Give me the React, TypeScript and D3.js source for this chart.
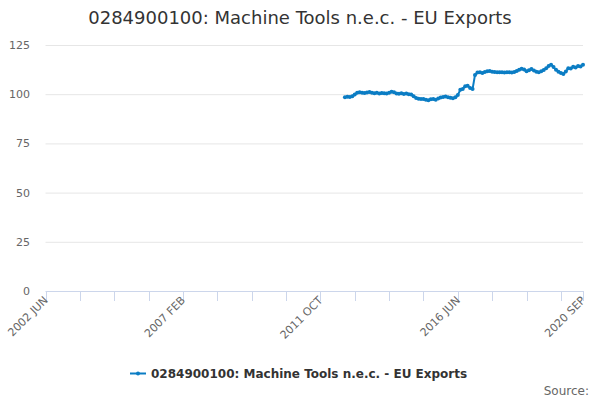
import { useEffect, useRef } from 'react'
import * as d3 from 'd3'

const title = '0284900100: Machine Tools n.e.c. - EU Exports'
const seriesName = '0284900100: Machine Tools n.e.c. - EU Exports'

// months are counted from 2002 JUN (index 0) to 2020 SEP (index 219)
const monthCount = 220
const dataStart = 122 // 2012 AUG

const tickLabels = ['2002 JUN', '2007 FEB', '2011 OCT', '2016 JUN', '2020 SEP']
const tickLabelIndex = [0, 56, 112, 168, 219]
const minorTickStep = 14

const yTicks = [0, 25, 50, 75, 100, 125]

const values = [
  98.5, 98.7, 98.6, 99.0, 99.8,
  100.8, 101.0, 100.7, 100.6, 100.9,
  101.1, 100.8, 100.5, 100.7, 100.4,
  100.6, 100.5, 100.3, 100.8, 101.3,
  101.0, 100.4, 100.2, 100.5, 100.1,
  100.3, 100.0, 99.9, 99.0, 98.1,
  97.7, 97.6, 97.5, 97.2, 96.9,
  97.4, 97.6, 97.2, 97.8, 98.3,
  98.6, 98.8, 98.5, 98.2, 97.9,
  98.5, 99.6, 102.2, 102.6, 104.0,
  104.3, 103.2, 102.6, 109.8, 111.0,
  111.2, 110.8, 111.3, 111.6, 111.8,
  111.4, 111.3, 111.2, 111.1, 111.2,
  111.0, 111.1, 111.2, 111.0, 111.3,
  111.8, 112.4, 112.9, 112.5, 111.7,
  112.2, 112.8, 112.0, 111.4, 111.1,
  111.6, 112.3, 113.2, 114.3, 115.0,
  113.8, 112.4, 111.4, 110.8, 110.3,
  111.5, 113.2, 113.0, 113.9, 113.6,
  114.3, 114.1, 115.0,
]

const color = '#0b7dc4'
const font = '"DejaVu Sans", sans-serif'

export default function App() {
  const svgRef = useRef<SVGSVGElement>(null)

  useEffect(() => {
    document.body.style.margin = '0'
    if (!svgRef.current) return
    const svg = d3.select(svgRef.current)
    svg.selectAll('*').remove()

    const left = 45.5
    const right = 583
    const top = 45
    const bottom = 291

    const x = d3.scaleLinear().domain([0, monthCount - 1]).range([left, right])
    const y = d3.scaleLinear().domain([0, 125]).range([bottom, top])

    svg
      .append('text')
      .attr('x', 300)
      .attr('y', 24)
      .attr('text-anchor', 'middle')
      .attr('fill', '#333333')
      .attr('font-size', '18px')
      .attr('font-family', font)
      .text(title)

    // grid
    svg
      .append('g')
      .selectAll('line')
      .data(yTicks.filter((t) => t > 0))
      .join('line')
      .attr('x1', left)
      .attr('x2', right)
      .attr('y1', (d) => y(d) + 0.5)
      .attr('y2', (d) => y(d) + 0.5)
      .attr('stroke', '#e6e6e6')

    svg
      .append('g')
      .selectAll('text')
      .data(yTicks)
      .join('text')
      .attr('x', 30)
      .attr('y', (d) => y(d) + 4)
      .attr('text-anchor', 'end')
      .attr('fill', '#666666')
      .attr('font-size', '11px')
      .attr('font-family', font)
      .text((d) => d)

    // x axis
    svg
      .append('line')
      .attr('x1', left)
      .attr('x2', right)
      .attr('y1', bottom + 0.5)
      .attr('y2', bottom + 0.5)
      .attr('stroke', '#ccd6eb')

    const minorTicks = d3.range(0, monthCount, minorTickStep).concat([monthCount - 1])
    svg
      .append('g')
      .selectAll('line')
      .data(minorTicks)
      .join('line')
      .attr('x1', (d) => Math.round(x(d)) + 0.5)
      .attr('x2', (d) => Math.round(x(d)) + 0.5)
      .attr('y1', bottom)
      .attr('y2', bottom + 10)
      .attr('stroke', '#ccd6eb')

    svg
      .append('g')
      .selectAll('text')
      .data(tickLabels)
      .join('text')
      .attr('transform', (_, i) => `translate(${x(tickLabelIndex[i]) + 3},${bottom + 10}) rotate(-45)`)
      .attr('text-anchor', 'end')
      .attr('fill', '#666666')
      .attr('font-size', '11px')
      .attr('font-family', font)
      .text((d) => d)

    // series
    const points = values.map((v, i) => [dataStart + i, v] as [number, number])
    const line = d3
      .line<[number, number]>()
      .x((d) => x(d[0]))
      .y((d) => y(d[1]))

    svg
      .append('path')
      .datum(points)
      .attr('fill', 'none')
      .attr('stroke', color)
      .attr('stroke-width', 2)
      .attr('stroke-linejoin', 'round')
      .attr('d', line)

    svg
      .append('g')
      .selectAll('circle')
      .data(points)
      .join('circle')
      .attr('cx', (d) => x(d[0]))
      .attr('cy', (d) => y(d[1]))
      .attr('r', 2)
      .attr('fill', color)

    // legend
    const legend = svg.append('g').attr('transform', 'translate(130,373)')
    legend
      .append('line')
      .attr('x1', 0)
      .attr('x2', 16)
      .attr('y1', 0.5)
      .attr('y2', 0.5)
      .attr('stroke', color)
      .attr('stroke-width', 2)
    legend.append('circle').attr('cx', 8).attr('cy', 0.5).attr('r', 2).attr('fill', color)
    legend
      .append('text')
      .attr('x', 21)
      .attr('y', 5)
      .attr('fill', '#333333')
      .attr('font-size', '12px')
      .attr('font-weight', 'bold')
      .attr('font-family', font)
      .text(seriesName)

    svg
      .append('text')
      .attr('x', 589)
      .attr('y', 395)
      .attr('text-anchor', 'end')
      .attr('fill', '#666666')
      .attr('font-size', '12px')
      .attr('font-family', font)
      .text('Source:')
  }, [])

  return <svg ref={svgRef} width={600} height={400} style={{ display: 'block' }} />
}
